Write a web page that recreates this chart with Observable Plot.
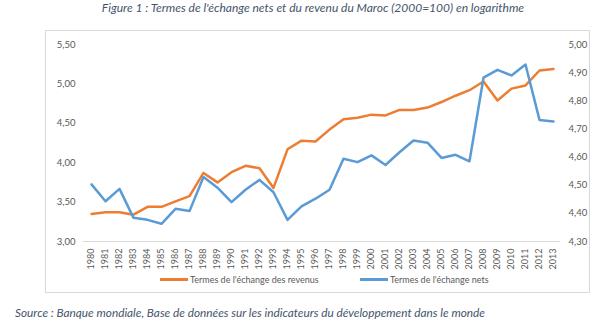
<!DOCTYPE html>
<html><head><meta charset="utf-8">
<script src="https://cdn.jsdelivr.net/npm/d3@7"></script>
<script src="https://cdn.jsdelivr.net/npm/@observablehq/plot@0.6"></script>
<style>
body{margin:0;background:#fff;font-family:Lato,"Open Sans",sans-serif;}
#wrap{position:relative;width:609px;height:325px;overflow:hidden;}
.title{position:absolute;top:0;left:0;width:626px;text-align:center;font-style:italic;font-size:12px;color:#44546a;line-height:16px;}
.frame{position:absolute;left:45px;top:30px;width:545px;height:263px;border:1px solid #d9d9d9;box-sizing:border-box;}
#chart{position:absolute;left:0;top:0;}
.legend{position:absolute;top:273px;font-size:9px;color:#595959;line-height:14px;white-space:nowrap;}
.sw{display:inline-block;width:28px;height:3px;vertical-align:middle;margin-right:2px;position:relative;top:-1px;}
.caption{position:absolute;left:15px;top:305px;font-style:italic;font-size:11.8px;color:#44546a;line-height:16px;}
</style></head>
<body><div id="wrap">
<div class="title">Figure 1 : Termes de l'échange nets et du revenu du Maroc (2000=100) en logarithme</div>
<div class="frame"></div>
<div id="chart"></div>
<div class="legend" style="left:160px"><span class="sw" style="background:#ed7d31"></span>Termes de l'échange des revenus</div>
<div class="legend" style="left:360px"><span class="sw" style="background:#5b9bd5"></span>Termes de l'échange nets</div>
<div class="caption">Source : Banque mondiale, Base de données sur les indicateurs du développement dans le monde</div>
</div>
<script>
const years = d3.range(1980, 2014).map(String);
const revenus = [3.35,3.37,3.37,3.34,3.44,3.44,3.51,3.575,3.87,3.75,3.88,3.96,3.93,3.68,4.17,4.28,4.27,4.42,4.55,4.57,4.61,4.60,4.67,4.67,4.70,4.77,4.85,4.92,5.03,4.79,4.94,4.98,5.17,5.19];
const nets = [4.503,4.443,4.487,4.384,4.377,4.363,4.416,4.408,4.529,4.491,4.440,4.484,4.519,4.475,4.377,4.425,4.452,4.484,4.594,4.582,4.606,4.572,4.617,4.659,4.651,4.597,4.608,4.585,4.882,4.910,4.890,4.929,4.732,4.726];
const leftTicks = [3.0,3.5,4.0,4.5,5.0,5.5];
const rightTicks = [4.3,4.4,4.5,4.6,4.7,4.8,4.9,5.0];

const L0 = 3.0, L1 = 5.5, R0 = 4.3, R1 = 5.0;
const toLeft = v => L0 + (v - R0) * (L1 - L0) / (R1 - R0);
const fmt = (v, d) => v.toFixed(d).replace(".", ",");

const revData = years.map((y, i) => ({year: y, v: revenus[i]}));
const netData = years.map((y, i) => ({year: y, v: nets[i]}));

const chart = Plot.plot({
  width: 609, height: 300,
  marginLeft: 83, marginRight: 49, marginTop: 44, marginBottom: 59,
  style: {fontFamily: "Lato, 'Open Sans', sans-serif", color: "#595959", background: "transparent"},
  x: {type: "point", domain: years, padding: 0.5},
  y: {domain: [L0, L1]},
  marks: [
    Plot.ruleY([3], {stroke: "#d9d9d9", strokeWidth: 1}),
    Plot.axisY(leftTicks, {anchor: "left", tickSize: 0, tickPadding: 8, fontSize: 9.5, tickFormat: d => fmt(d, 2), label: null}),
    Plot.axisY(rightTicks.map(toLeft), {anchor: "right", tickSize: 0, tickPadding: 8, fontSize: 9.5, tickFormat: (d, i) => fmt(rightTicks[i], 2), label: null}),
    Plot.axisX({tickRotate: -90, tickSize: 0, tickPadding: 7, fontSize: 9, label: null}),
    Plot.line(revData, {x: "year", y: "v", stroke: "#ed7d31", strokeWidth: 2.5}),
    Plot.line(netData, {x: "year", y: d => toLeft(d.v), stroke: "#5b9bd5", strokeWidth: 2.5})
  ]
});
document.getElementById("chart").appendChild(chart);
</script>
</body></html>
